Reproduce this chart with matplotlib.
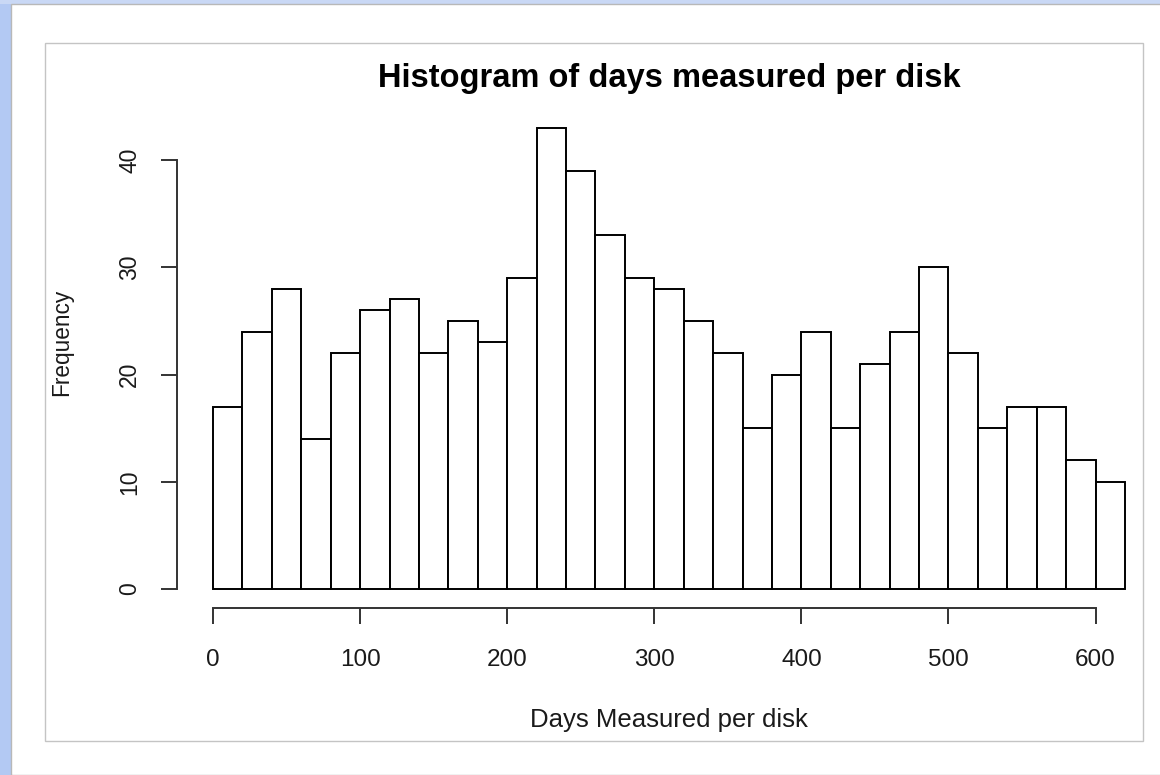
import numpy as np
import matplotlib
matplotlib.use('Agg')
import matplotlib.pyplot as plt
from matplotlib.patches import Rectangle

# histogram bins (width 20 days) and counts
bin_edges = list(range(0, 640, 20))
counts = [17, 24, 28, 14, 22, 26, 27, 22, 25, 23, 29, 43, 39, 33, 29, 28,
          25, 22, 15, 20, 24, 15, 21, 24, 30, 22, 15, 17, 17, 12, 10]
x_ticks = [0, 100, 200, 300, 400, 500, 600]
y_ticks = [0, 10, 20, 30, 40]

title = 'Histogram of days measured per disk'
xlabel = 'Days Measured per disk'
ylabel = 'Frequency'


def main():
    plt.rcParams['font.family'] = ['Liberation Sans', 'DejaVu Sans']
    W, H = 1160, 775
    fig = plt.figure(figsize=(W / 100, H / 100), dpi=100)
    fig.patch.set_facecolor('white')

    # window chrome: blue strips at left/top, grey frames
    fig.patches.append(Rectangle((0, 0), 11 / W, 1, transform=fig.transFigure,
                                 facecolor='#b3c9f3', edgecolor='none'))
    fig.patches.append(Rectangle((0, 1 - 4 / H), 1, 4 / H, transform=fig.transFigure,
                                 facecolor='#c9d8f5', edgecolor='none'))
    fig.patches.append(Rectangle((11 / W, 0), 1, 1 - 4 / H, transform=fig.transFigure,
                                 facecolor='none', edgecolor='#b8b8b8', lw=1))
    fig.patches.append(Rectangle((45 / W, 1 - 741 / H), (1143 - 45) / W, (741 - 43) / H,
                                 transform=fig.transFigure, facecolor='none',
                                 edgecolor='#c4c4c4', lw=1))

    # axes placement in pixels
    left, right, bottom, top = 176.5, 1143, 607.5, 109.4
    ax = fig.add_axes([left / W, 1 - bottom / H, (right - left) / W, (bottom - top) / H])
    ax.set_facecolor('none')

    px_per_unit = 147.1 / 100
    ax.set_xlim(-24.8, -24.8 + (right - left) / px_per_unit)
    ax.set_ylim(-1.72, 44.72)

    edges = np.array(bin_edges)
    ax.bar(edges[:-1], counts, width=np.diff(edges), align='edge',
           facecolor='white', edgecolor='black', linewidth=1.4)

    for s in ['top', 'right']:
        ax.spines[s].set_visible(False)
    ax.spines['left'].set_bounds(0, 40)
    ax.spines['bottom'].set_bounds(0, 600)
    for s in ['left', 'bottom']:
        ax.spines[s].set_color('#333333')
        ax.spines[s].set_linewidth(1.4)

    ax.set_xticks(x_ticks)
    ax.set_yticks(y_ticks)
    ax.set_yticklabels([str(v) for v in y_ticks], rotation=90, va='center')
    ax.tick_params(axis='both', length=11.5, width=1.4, color='#333333',
                   labelcolor='#1a1a1a')
    ax.tick_params(axis='x', labelsize=17.5, pad=18.5)
    ax.tick_params(axis='y', labelsize=16.5, pad=14)

    fig.text(669 / W, 1 - 78 / H, title, ha='center', va='center',
             fontsize=23.5, fontweight='bold', color='black')
    fig.text(669 / W, 1 - 720 / H, xlabel, ha='center', va='center',
             fontsize=18.5, color='#1a1a1a')
    fig.text(62 / W, 1 - 342 / H, ylabel, ha='center', va='center',
             rotation=90, fontsize=16.3, color='#1a1a1a')

    fig.savefig('out.png', dpi=100)


if __name__ == '__main__':
    main()
